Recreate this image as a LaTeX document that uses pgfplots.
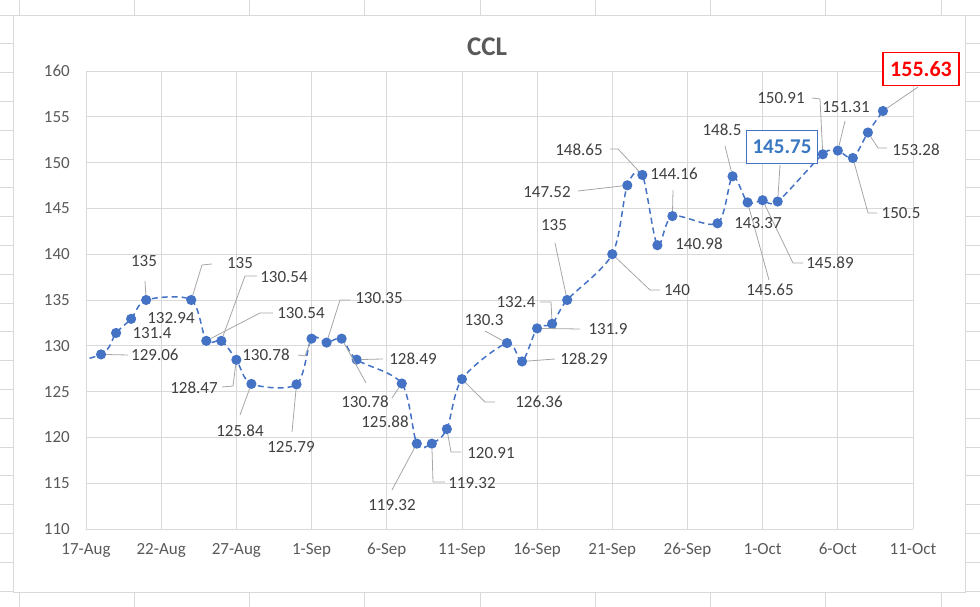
\documentclass[border=0pt]{standalone}
\usepackage{pgfplots}
\pgfplotsset{compat=1.18}
\usetikzlibrary{calc}
\usepackage{fontspec}
\setmainfont{Carlito}

\definecolor{lineblue}{HTML}{4472C4}
\definecolor{gridgray}{HTML}{D9D9D9}
\definecolor{ticktext}{HTML}{595959}
\definecolor{labtext}{HTML}{404040}
\definecolor{leadgray}{HTML}{A6A6A6}
\definecolor{boxblue}{HTML}{3A78C2}

\begin{document}
\begin{tikzpicture}[x=1bp,y=1bp,
  lab/.style={inner sep=0pt, text=labtext, font=\fontsize{17bp}{20bp}\selectfont},
  lead/.style={draw=leadgray, line width=0.8bp, shorten <=5bp}]

\begin{axis}[
  scale only axis, width=827bp, height=458bp,
  xmin=0, xmax=55, ymin=110, ymax=160,
  xtick={0,5,...,55},
  xticklabels={17-Aug,22-Aug,27-Aug,1-Sep,6-Sep,11-Sep,16-Sep,21-Sep,26-Sep,1-Oct,6-Oct,11-Oct},
  ytick={110,115,...,160},
  /pgf/number format/assume math mode=true,
  major tick length=0pt,
  axis line style={draw=none},
  grid=major,
  major grid style={draw=gridgray, line width=0.8bp},
  tick label style={text=ticktext, font=\fontsize{17bp}{20bp}\selectfont},
  xticklabel style={inner sep=0pt, anchor=north, yshift=-14bp},
  yticklabel style={inner sep=0pt, anchor=east, xshift=-16bp},
  clip marker paths=true,
]
\addplot[lineblue, line width=1.5bp, dash pattern=on 6bp off 4bp, smooth,
  mark=*, mark size=4.3bp, mark options={solid, fill=lineblue, draw=lineblue}]
coordinates {
(-3,127.4)
(1,129.06) (2,131.4) (3,132.94) (4,135)
(7,135) (8,130.54) (9,130.54) (10,128.47) (11,125.84)
(14,125.79) (15,130.78) (16,130.35) (17,130.78) (18,128.49)
(21,125.88) (22,119.32) (23,119.32) (24,120.91) (25,126.36)
(28,130.3) (29,128.29) (30,131.9) (31,132.4) (32,135)
(35,140) (36,147.52) (37,148.65) (38,140.98) (39,144.16)
(42,143.37) (43,148.5) (44,145.65) (45,145.89) (46,145.75)
(49,150.91) (50,151.31) (51,150.5) (52,153.28) (53,155.63)
};
\coordinate (O) at (axis cs:0,110);
\coordinate (p1) at (axis cs:1,129.06);
\coordinate (p2) at (axis cs:2,131.4);
\coordinate (p3) at (axis cs:3,132.94);
\coordinate (p4) at (axis cs:4,135);
\coordinate (p5) at (axis cs:7,135);
\coordinate (p6) at (axis cs:8,130.54);
\coordinate (p7) at (axis cs:9,130.54);
\coordinate (p8) at (axis cs:10,128.47);
\coordinate (p9) at (axis cs:11,125.84);
\coordinate (p10) at (axis cs:14,125.79);
\coordinate (p11) at (axis cs:15,130.78);
\coordinate (p12) at (axis cs:16,130.35);
\coordinate (p13) at (axis cs:17,130.78);
\coordinate (p14) at (axis cs:18,128.49);
\coordinate (p15) at (axis cs:21,125.88);
\coordinate (p16) at (axis cs:22,119.32);
\coordinate (p17) at (axis cs:23,119.32);
\coordinate (p18) at (axis cs:24,120.91);
\coordinate (p19) at (axis cs:25,126.36);
\coordinate (p20) at (axis cs:28,130.3);
\coordinate (p21) at (axis cs:29,128.29);
\coordinate (p22) at (axis cs:30,131.9);
\coordinate (p23) at (axis cs:31,132.4);
\coordinate (p24) at (axis cs:32,135);
\coordinate (p25) at (axis cs:35,140);
\coordinate (p26) at (axis cs:36,147.52);
\coordinate (p27) at (axis cs:37,148.65);
\coordinate (p28) at (axis cs:38,140.98);
\coordinate (p29) at (axis cs:39,144.16);
\coordinate (p30) at (axis cs:42,143.37);
\coordinate (p31) at (axis cs:43,148.5);
\coordinate (p32) at (axis cs:44,145.65);
\coordinate (p33) at (axis cs:45,145.89);
\coordinate (p34) at (axis cs:46,145.75);
\coordinate (p35) at (axis cs:49,150.91);
\coordinate (p36) at (axis cs:50,151.31);
\coordinate (p37) at (axis cs:51,150.5);
\coordinate (p38) at (axis cs:52,153.28);
\coordinate (p39) at (axis cs:53,155.63);
\end{axis}

\pgfresetboundingbox
\begin{scope}[shift={($(O)-(86,78)$)}]
\path[use as bounding box] (0,0) rectangle (980,607);

% sheet cell lines and chart border
\foreach \k in {0,...,20}{
  \draw[gridgray, line width=0.8bp] (0,{592-28.8*\k}) -- (13,{592-28.8*\k});
  \draw[gridgray, line width=0.8bp] (965,{592-28.8*\k}) -- (980,{592-28.8*\k});
}
\foreach \k in {0,...,8}{
  \draw[gridgray, line width=0.8bp] ({19+115.25*\k},0) -- ({19+115.25*\k},15);
  \draw[gridgray, line width=0.8bp] ({19+115.25*\k},592) -- ({19+115.25*\k},607);
}
\draw[gridgray, line width=0.8bp] (13,15) rectangle (965,592);

% title
\node[text=ticktext, font=\fontsize{27bp}{30bp}\selectfont\bfseries] at (487,560) {CCL};

% leader lines
\draw[lead] (p1) -- (128,252);
\draw[lead] (p4) -- (145,326);
\draw[lead] (p5) -- (202,342) -- (212,343);
\draw[lead] (p6) -- (260,294) -- (273,294);
\draw[lead] (p7) -- (245,331) -- (257,331);
\draw[lead] (p8) -- (233,221) -- (222,220);
\draw[lead] (p9) -- (240,192);
\draw[lead] (p10) -- (292,175);
\draw[lead] (p11) -- (305,251) -- (298,252);
\draw[lead] (p12) -- (340,307) -- (350,307);
\draw[lead] (p13) -- (366,224);
\draw[lead] (p14) -- (383,248);
\draw[lead] (p15) -- (392,209);
\draw[lead] (p16) -- (392,117);
\draw[lead] (p17) -- (433,125) -- (445,125);
\draw[lead] (p18) -- (451,155) -- (461,155);
\draw[lead] (p19) -- (485,205) -- (495,205);
\draw[lead] (p20) -- (485,276);
\draw[lead] (p21) -- (555,248);
\draw[lead] (p22) -- (580,278);
\draw[lead] (p23) -- (551,305) -- (540,305);
\draw[lead] (p24) -- (555,364);
\draw[lead] (p25) -- (650,317) -- (660,317);
\draw[lead] (p26) -- (578,416);
\draw[lead] (p27) -- (618,458) -- (610,458);
\draw[lead] (p29) -- (673,417);
\draw[lead] (p31) -- (725,461);
\draw[lead] (p32) -- (769,327);
\draw[lead] (p33) -- (793,344) -- (803,344);
\draw[lead] (p34) -- (780,442);
\draw[lead] (p35) -- (820,508) -- (812,509);
\draw[lead] (p36) -- (845,486);
\draw[lead] (p37) -- (868,394) -- (877,394);
\draw[lead] (p38) -- (878,459) -- (887,459);
\draw[lead] (p39) -- (918,520);

% data labels
\node[lab, anchor=west] at (131,252) {129.06};
\node[lab] at (152,274) {131.4};
\node[lab] at (171,289) {132.94};
\node[lab] at (144,346) {135};
\node[lab] at (240,344) {135};
\node[lab] at (301,294) {130.54};
\node[lab] at (284,330) {130.54};
\node[lab] at (194,219) {128.47};
\node[lab] at (240,176) {125.84};
\node[lab] at (291,160) {125.79};
\node[lab] at (266,252) {130.78};
\node[lab] at (379,309) {130.35};
\node[lab] at (365,205) {130.78};
\node[lab] at (413,248) {128.49};
\node[lab] at (385,185) {125.88};
\node[lab] at (392,102) {119.32};
\node[lab] at (472,124) {119.32};
\node[lab] at (491,154) {120.91};
\node[lab] at (539,205) {126.36};
\node[lab] at (484,287) {130.3};
\node[lab] at (584,248) {128.29};
\node[lab] at (608,278) {131.9};
\node[lab] at (516,305) {132.4};
\node[lab] at (554,382) {135};
\node[lab] at (677,317) {140};
\node[lab] at (547,415) {147.52};
\node[lab] at (579,457) {148.65};
\node[lab] at (699,363) {140.98};
\node[lab] at (674,433) {144.16};
\node[lab] at (758,384) {143.37};
\node[lab] at (722,477) {148.5};
\node[lab] at (770,317) {145.65};
\node[lab] at (830,344) {145.89};
\node[lab] at (781,509) {150.91};
\node[lab] at (846,500) {151.31};
\node[lab] at (901,394) {150.5};
\node[lab] at (916,457) {153.28};

% highlighted labels
\node[draw=lineblue, line width=1.8bp, fill=white, text=boxblue, inner sep=0pt,
  minimum width=71bp, minimum height=33bp,
  font=\fontsize{21bp}{24bp}\selectfont\bfseries] at (782,460) {145.75};
\node[draw=red, line width=1.8bp, fill=white, text=red, inner sep=0pt,
  minimum width=76bp, minimum height=33bp,
  font=\fontsize{22bp}{25bp}\selectfont\bfseries] at (921,538) {155.63};
\end{scope}
\end{tikzpicture}
\end{document}
